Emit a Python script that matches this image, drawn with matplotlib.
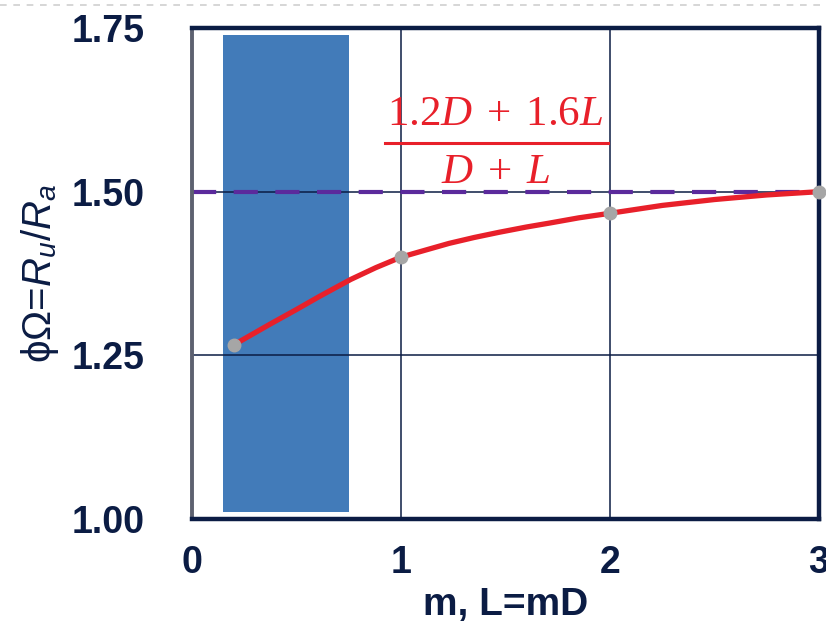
import matplotlib
matplotlib.use("Agg")
import matplotlib.pyplot as plt
from matplotlib.lines import Line2D
from matplotlib.patches import Rectangle

# ---- data ----
m_curve = [0.2, 0.37, 0.5, 0.61, 0.76, 0.88, 1.0, 1.12, 1.23, 1.35, 1.47,
           1.6, 1.71, 1.85, 2.0, 2.25, 2.5, 2.75, 3.0]
ratio_curve = [1.266, 1.297, 1.320, 1.340, 1.366, 1.384, 1.400, 1.411, 1.421,
               1.430, 1.438, 1.446, 1.452, 1.460, 1.467, 1.479, 1.488, 1.495,
               1.500]
m_points = [0.2, 1.0, 2.0, 3.0]
ratio_points = [1.266, 1.400, 1.467, 1.500]
limit_value = 1.5
band_x = [0.15, 0.75]
band_y = [1.01, 1.74]
x_ticks = [0, 1, 2, 3]
y_ticks = [1.00, 1.25, 1.50, 1.75]
y_tick_labels = ["1.00", "1.25", "1.50", "1.75"]
formula_num = r"$1.2D\;+\;1.6L$"
formula_den = r"$D\;+\;L$"

NAVY = "#0b1c44"
RED = "#e8202a"
plt.rcParams["font.family"] = ["Liberation Sans", "DejaVu Sans"]
plt.rcParams["mathtext.fontset"] = "custom"
plt.rcParams["mathtext.rm"] = "Liberation Serif"
plt.rcParams["mathtext.it"] = "Liberation Serif:italic"
plt.rcParams["mathtext.sf"] = "Liberation Sans:italic"

fig = plt.figure(figsize=(8.26, 6.31), dpi=100)
ax = fig.add_axes([0.2324, 0.1775, 0.7591, 0.7781])
ax.set_xlim(0, 3)
ax.set_ylim(1.0, 1.75)

# blue band
ax.add_patch(Rectangle((band_x[0], band_y[0]), band_x[1] - band_x[0],
                       band_y[1] - band_y[0], facecolor="#427bb9",
                       edgecolor="none", zorder=1))

# grid
ax.set_xticks(x_ticks)
ax.set_yticks(y_ticks)
ax.grid(True, color=NAVY, linewidth=1.1, zorder=2)
ax.set_axisbelow(False)

# dashed limit line
ax.axhline(limit_value, color="#5b2a9c", linewidth=3.0, dashes=(5.8, 4.2), zorder=3)

# curve
ax.plot(m_curve, ratio_curve, color=RED, linewidth=3.8, zorder=4,
        solid_capstyle="butt", solid_joinstyle="round")
ax.plot(m_points, ratio_points, linestyle="none", marker="o", markersize=9,
        color="#a6a6a6", zorder=6, clip_on=False)

# spines
for side in ["top", "right", "bottom"]:
    ax.spines[side].set_color(NAVY)
    ax.spines[side].set_linewidth(3.2)
ax.spines["left"].set_color("#5d6170")
ax.spines["left"].set_linewidth(2.8)
for s in ax.spines.values():
    s.set_zorder(5)

ax.tick_params(length=0, colors=NAVY)
ax.set_xticklabels([str(v) for v in x_ticks], fontsize=27, fontweight="bold",
                   color=NAVY)
ax.set_yticklabels(y_tick_labels, fontsize=27, fontweight="bold", color=NAVY)
ax.tick_params(axis="x", pad=19)
ax.tick_params(axis="y", pad=34)

ax.set_xlabel("m, L=mD", fontsize=28, fontweight="bold", color=NAVY, labelpad=4)
ax.set_ylabel(r"ϕΩ=$\mathsf{R}_{\mathsf{u}}$/$\mathsf{R}_{\mathsf{a}}$",
              fontsize=29, color=NAVY, labelpad=8)

# fraction annotation
ax.text(0.484, 0.802, formula_num, color=RED, fontsize=31, ha="center",
        va="baseline", transform=ax.transAxes, zorder=7)
ax.text(0.484, 0.684, formula_den, color=RED, fontsize=31, ha="center",
        va="baseline", transform=ax.transAxes, zorder=7)
ax.add_artist(Line2D([0.308, 0.663], [0.766, 0.766], transform=ax.transAxes,
                     color=RED, linewidth=2.2, zorder=7))

# top dashed slide border
fig.add_artist(Line2D([0, 1], [0.992, 0.992], transform=fig.transFigure,
                      color="#cfcfcf", linewidth=1.2, dashes=(4, 4)))

fig.savefig("out.png", dpi=100)
